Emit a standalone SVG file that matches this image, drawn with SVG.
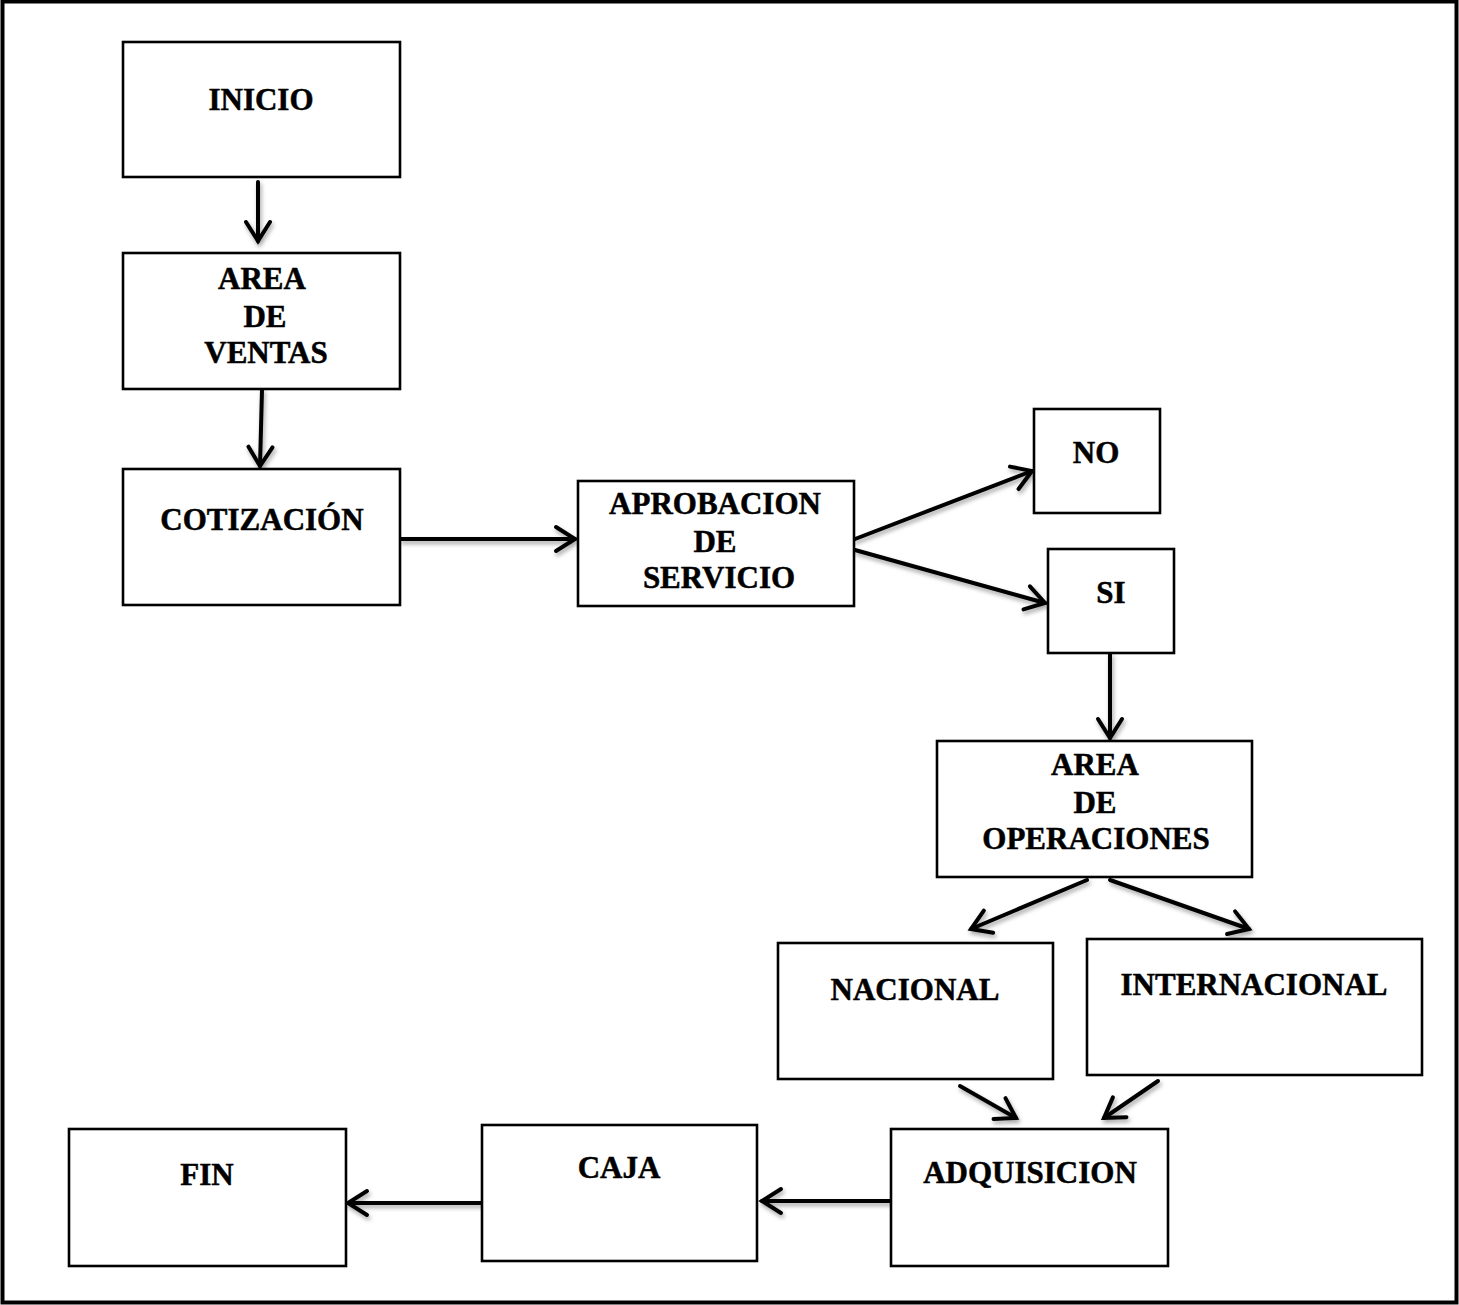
<svg xmlns="http://www.w3.org/2000/svg" width="1459" height="1305" viewBox="0 0 1459 1305">
  <style>
    .box { fill: #ffffff; stroke: #000000; stroke-width: 2.6; }
    .lbl { font-family: "Liberation Serif", "Times New Roman", serif; font-weight: bold; font-size: 31px; fill: #000000; stroke: #000000; stroke-width: 0.5; text-anchor: middle; }
    .conn { fill: none; stroke: #000000; stroke-width: 4; stroke-linecap: round; marker-end: url(#head); }
  </style>
  <defs>
    <marker id="head" markerUnits="userSpaceOnUse" viewBox="-26 -16 30 32" markerWidth="30" markerHeight="32" refX="0" refY="0" orient="auto">
      <path d="M -19 -12 L 0 0 L -19 12" fill="none" stroke="#000000" stroke-width="4" stroke-linecap="round" stroke-linejoin="miter"/>
    </marker>
    <filter id="shade" x="-10%" y="-20%" width="120%" height="140%">
      <feDropShadow dx="1.5" dy="3" stdDeviation="2" flood-color="#000000" flood-opacity="0.35"/>
    </filter>
  </defs>

  <rect width="1459" height="1305" fill="#ffffff"/>
  <!-- page frame -->
  <rect x="2.5" y="1.5" width="1454" height="1301" fill="none" stroke="#000000" stroke-width="4"/>

  <!-- connectors -->
  <g id="connectors" filter="url(#shade)">
    <line class="conn" x1="258" y1="182" x2="258" y2="241"/>
    <line class="conn" x1="262" y1="390" x2="260" y2="466"/>
    <line class="conn" x1="401" y1="539" x2="575" y2="539"/>
    <line class="conn" x1="855" y1="539" x2="1032" y2="471"/>
    <line class="conn" x1="855" y1="550" x2="1045" y2="603"/>
    <line class="conn" x1="1110" y1="654" x2="1110" y2="738"/>
    <line class="conn" x1="1087" y1="880" x2="971" y2="929"/>
    <line class="conn" x1="1110" y1="880" x2="1249" y2="929"/>
    <line class="conn" x1="960" y1="1086" x2="1016" y2="1118"/>
    <line class="conn" x1="1158" y1="1081" x2="1104" y2="1118"/>
    <line class="conn" x1="890" y1="1201" x2="762" y2="1201"/>
    <line class="conn" x1="481" y1="1203" x2="348" y2="1203"/>
  </g>

  <g id="inicio">
    <rect class="box" x="123" y="42" width="277" height="135"/>
    <text class="lbl" x="261" y="110">INICIO</text>
  </g>

  <g id="area-ventas">
    <rect class="box" x="123" y="253" width="277" height="136"/>
    <text class="lbl" x="262" y="289">AREA</text>
    <text class="lbl" x="265" y="327">DE</text>
    <text class="lbl" x="266" y="363">VENTAS</text>
  </g>

  <g id="cotizacion">
    <rect class="box" x="123" y="469" width="277" height="136"/>
    <text class="lbl" x="262" y="530">COTIZACIÓN</text>
  </g>

  <g id="aprobacion">
    <rect class="box" x="578" y="481" width="276" height="125"/>
    <text class="lbl" x="715" y="514">APROBACION</text>
    <text class="lbl" x="715" y="552">DE</text>
    <text class="lbl" x="719" y="588">SERVICIO</text>
  </g>

  <g id="no">
    <rect class="box" x="1034" y="409" width="126" height="104"/>
    <text class="lbl" x="1096" y="463">NO</text>
  </g>

  <g id="si">
    <rect class="box" x="1048" y="549" width="126" height="104"/>
    <text class="lbl" x="1111" y="603">SI</text>
  </g>

  <g id="area-operaciones">
    <rect class="box" x="937" y="741" width="315" height="136"/>
    <text class="lbl" x="1095" y="775">AREA</text>
    <text class="lbl" x="1095" y="813">DE</text>
    <text class="lbl" x="1096" y="849">OPERACIONES</text>
  </g>

  <g id="nacional">
    <rect class="box" x="778" y="943" width="275" height="136"/>
    <text class="lbl" x="915" y="1000">NACIONAL</text>
  </g>

  <g id="internacional">
    <rect class="box" x="1087" y="939" width="335" height="136"/>
    <text class="lbl" x="1254" y="995">INTERNACIONAL</text>
  </g>

  <g id="adquisicion">
    <rect class="box" x="891" y="1129" width="277" height="137"/>
    <text class="lbl" x="1030" y="1183">ADQUISICION</text>
  </g>

  <g id="caja">
    <rect class="box" x="482" y="1125" width="275" height="136"/>
    <text class="lbl" x="619" y="1178">CAJA</text>
  </g>

  <g id="fin">
    <rect class="box" x="69" y="1129" width="277" height="137"/>
    <text class="lbl" x="207" y="1185">FIN</text>
  </g>
</svg>
